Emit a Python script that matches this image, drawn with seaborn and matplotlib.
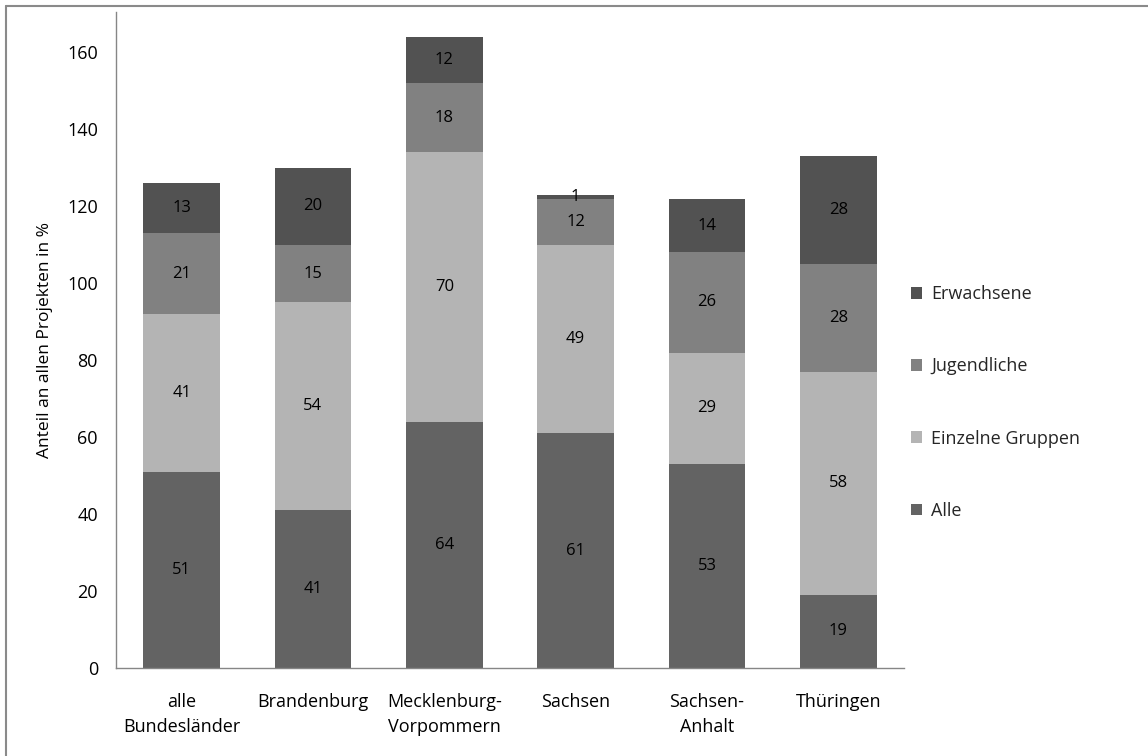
import matplotlib
matplotlib.use("Agg")
import matplotlib.pyplot as plt
import seaborn as sns
import pandas as pd
import numpy as np
from matplotlib.lines import Line2D

categories = ["alle\nBundesländer", "Brandenburg", "Mecklenburg-\nVorpommern",
              "Sachsen", "Sachsen-\nAnhalt", "Thüringen"]
series_names = ["Alle", "Einzelne Gruppen", "Jugendliche", "Erwachsene"]
alle = [51, 41, 64, 61, 53, 19]
einzelne = [41, 54, 70, 49, 29, 58]
jugendliche = [21, 15, 18, 12, 26, 28]
erwachsene = [13, 20, 12, 1, 14, 28]
colors = ["#636363", "#b4b4b4", "#818181", "#525252"]
yticks = [0, 20, 40, 60, 80, 100, 120, 140, 160]

sns.set_theme(style="white")
plt.rcParams["font.family"] = ["Open Sans", "DejaVu Sans"]

fig = plt.figure(figsize=(11.48, 7.56), dpi=100)
ax = fig.add_axes([116/1148, 1-668/756, (904-116)/1148, (668-12)/756])

values = np.array([alle, einzelne, jugendliche, erwachsene], dtype=float)
cum = np.cumsum(values, axis=0)

# draw from top layer down so lower layers overlay
for i in range(len(series_names)-1, -1, -1):
    df = pd.DataFrame({"cat": categories, "val": cum[i]})
    sns.barplot(data=df, x="cat", y="val", color=colors[i], saturation=1,
                width=0.586, ax=ax, linewidth=0, label=series_names[i])

for i in range(len(series_names)):
    bottoms = cum[i] - values[i]
    for j in range(len(categories)):
        ax.text(j, bottoms[j] + values[i][j]/2, f"{int(values[i][j])}",
                ha="center", va="center", fontsize=12, color="black")

ax.set_ylim(0, 170.5)
ax.set_xlim(-0.5, 5.5)
ax.set_yticks(yticks)
ax.tick_params(axis="y", length=0, pad=13, labelsize=13, colors="black")
ax.tick_params(axis="x", length=0, pad=18, labelsize=13, colors="black")
for lbl in ax.get_xticklabels():
    lbl.set_linespacing(1.5)
ax.set_xlabel("")
ax.set_ylabel("Anteil an allen Projekten in %", fontsize=12.5, labelpad=10, color="black")
for s in ["top", "right"]:
    ax.spines[s].set_visible(False)
for s in ["left", "bottom"]:
    ax.spines[s].set_color("#868686")
    ax.spines[s].set_linewidth(1.0)

handles, labels = ax.get_legend_handles_labels()
leg = fig.legend(handles, labels, loc="center left",
                 bbox_to_anchor=(895/1148, 1-402.5/756), frameon=False,
                 fontsize=13, labelspacing=3.0, handlelength=0.6, handleheight=0.6,
                 handletextpad=0.5)
if ax.get_legend() is not None:
    ax.get_legend().remove()

# outer chart border (top and left visible)
fig.add_artist(Line2D([6/1148, 1.01], [1-6/756, 1-6/756], transform=fig.transFigure,
                      color="#8a8a8a", linewidth=1.5))
fig.add_artist(Line2D([6/1148, 6/1148], [-0.01, 1-6/756], transform=fig.transFigure,
                      color="#8a8a8a", linewidth=1.5))

fig.savefig("out.png", dpi=100)
